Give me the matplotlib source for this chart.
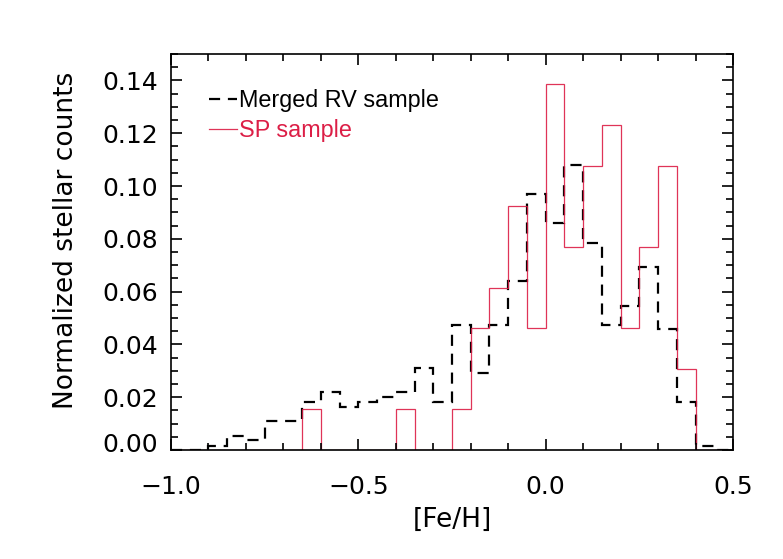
import numpy as np
import matplotlib
matplotlib.use('Agg')
import matplotlib.pyplot as plt
from matplotlib.ticker import MultipleLocator
from matplotlib.font_manager import FontProperties

# bin edges of [Fe/H] histogram (width 0.05)
bin_edges = np.round(np.arange(-1.0, 0.5001, 0.05), 2)

# Merged RV sample (black dashed), normalized counts per bin
merged_rv = [0.0, 0.0, 0.0017, 0.0054, 0.0036, 0.0108, 0.0108, 0.0182,
             0.0219, 0.0164, 0.0182, 0.0200, 0.0219, 0.0309, 0.0181, 0.0474,
             0.0291, 0.0474, 0.0640, 0.0968, 0.0858, 0.1078, 0.0785, 0.0474,
             0.0546, 0.0694, 0.0458, 0.0181, 0.0017, 0.0]

# SP sample (red solid)
sp_sample = [0.0, 0.0, 0.0, 0.0, 0.0, 0.0, 0.0, 0.0154,
             0.0, 0.0, 0.0, 0.0, 0.0154, 0.0, 0.0, 0.0154,
             0.0462, 0.0615, 0.0923, 0.0462, 0.1385, 0.0769, 0.1077, 0.1231,
             0.0462, 0.0769, 0.1077, 0.0308, 0.0, 0.0]

red = '#DC1E46'

fig = plt.figure(figsize=(7.83, 5.59), dpi=100)
ax = fig.add_axes([171 / 783, 109 / 559, 562 / 783, 396 / 559])

ax.stairs(merged_rv, bin_edges, color='black', linewidth=1.6,
          linestyle=(0, (5, 3.5)), label='Merged RV sample', baseline=None)
ax.stairs(sp_sample, bin_edges, color=red, linewidth=0.9, alpha=0.9,
          label='SP sample', baseline=None)

ax.set_xlim(-1.0, 0.5)
ax.set_ylim(0.0, 0.15)

ax.xaxis.set_minor_locator(MultipleLocator(0.1))
ax.yaxis.set_minor_locator(MultipleLocator(0.005))
ax.set_xticks([-1.0, -0.5, 0.0, 0.5])
ax.set_xticklabels(['\u22121.0', '\u22120.5', '0.0', '0.5'])
ax.set_yticks(np.arange(0, 0.1401, 0.02))
ax.set_yticklabels(['%.2f' % v for v in np.arange(0, 0.1401, 0.02)])

ax.tick_params(which='both', direction='in', top=True, right=True,
               labelsize=18, width=1.2)
ax.tick_params(which='major', length=8)
ax.tick_params(which='minor', length=5)
ax.tick_params(axis='x', pad=18)
ax.tick_params(axis='y', pad=9)
for s in ax.spines.values():
    s.set_linewidth(1.2)

# IDL puts the lowest y label a bit higher
lbl0 = ax.get_yticklabels()[0]
lbl0.set_transform(lbl0.get_transform() + matplotlib.transforms.ScaledTranslation(0, 7 / 100, fig.dpi_scale_trans))

ax.set_xlabel('[Fe/H]', fontsize=19, labelpad=6)
ax.set_ylabel('Normalized stellar counts', fontsize=19)
ax.yaxis.set_label_coords(-0.164, 0.53)

leg_font = FontProperties(family='Liberation Sans', stretch='normal', size=16.8)
leg = ax.legend(loc='upper left', bbox_to_anchor=(0.03, 0.965), frameon=False,
                prop=leg_font, handlelength=1.2, handletextpad=0.1,
                labelspacing=0.3, labelcolor='linecolor')
for t in leg.get_texts():
    if t.get_text() == 'SP sample':
        t.set_color(red)

fig.savefig('out.png', dpi=100)
